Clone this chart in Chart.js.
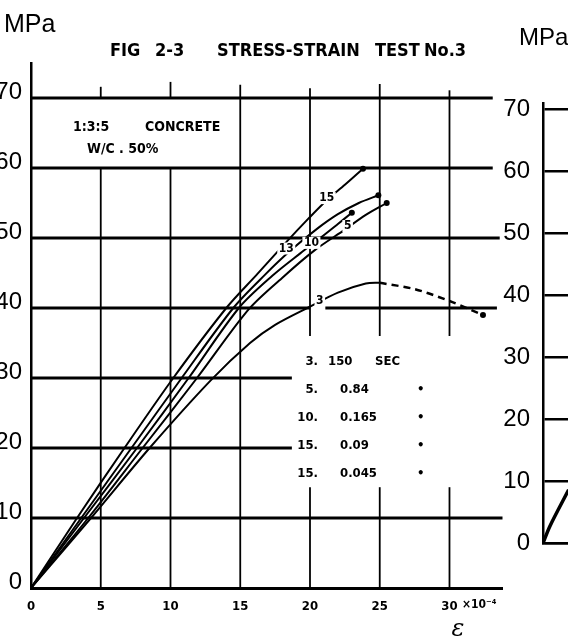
<!DOCTYPE html>
<html>
<head>
<meta charset="utf-8">
<script src="https://cdn.jsdelivr.net/npm/chart.js@4.4.1/dist/chart.umd.min.js"></script>
<style>
  html, body { margin: 0; padding: 0; background: #fff; overflow: hidden; width: 568px; height: 643px; }
  #main { position: absolute; left: 0; top: 0; width: 568px; height: 643px; }
  #side { position: absolute; left: 480px; top: 0; width: 120px; height: 643px; }
</style>
</head>
<body>
<div id="main"><canvas id="mainChart"></canvas></div>
<div id="side"><canvas id="sideChart"></canvas></div>
<script>
// strain (x10^-4) / stress (MPa)
const strainTicks = [0, 5, 10, 15, 20, 25, 30];
const stressTicks = [0, 10, 20, 30, 40, 50, 60, 70];

const curve15 = [[0,0],[3.3,10],[6.7,20],[10.2,30],[14.0,40],[16.2,44.8],[18.2,49.2],[19.9,52.8],[21.2,55.4],[22.5,57.6],[23.8,59.9]];
const curve13 = [[0,0],[3.6,10],[7.2,20],[10.8,30],[14.5,40],[16.8,44.8],[18.6,48.2],[20.5,51.3],[22,53.4],[23.5,55],[24.9,56.1]];
const curve10 = [[0,0],[3.8,10],[7.6,20],[11.3,30],[14.9,40],[17.3,44.6],[19.3,47.8],[20.8,50.1],[22,52],[23.0,53.6]];
const curve5  = [[0,0],[4.1,10],[8.0,20],[11.9,30],[15.6,39.8],[18.0,44.3],[20.3,48.2],[22.5,51.2],[24,53.3],[25.5,55.0]];
const curve3  = [[0,0],[4.3,10],[8.5,20],[12.9,29.7],[15.7,35],[17.5,37.6],[20,40.2],[22,42.2],[24,43.5],[25,43.6]];
const curve3Tail = [[25,43.6],[27.5,42.7],[30,41],[32.4,39]];

const curveNames = ['15', '13', '10', '5', '3'];
const curveNameAt = [[21.2,55.7],[18.3,48.5],[20.1,49.3],[22.7,51.7],[20.7,41.0]];

const legendCurve = ['3.', '5.', '10.', '15.', '15.'];
const legendTime = ['150', '0.84', '0.165', '0.09', '0.045'];

// partly visible neighbouring figure on the right
const sideCurve = [[0,0],[0.5,2.8],[1.8,8.6]];

const toXY = arr => arr.map(p => ({ x: p[0], y: p[1] }));
const endDot = arr => arr.map((p, i) => i === arr.length - 1 ? 3 : 0);

// grid spans of the hand drawn sheet: [value, from, to]
const hSpans = [[70,0,33.1],[60,0,33.1],[50,0,33.6],[40,0,20],[40,21.1,33.4],[30,0,18.7],[20,0,18.7],[10,0,33.8]];
const vSpans = [[5,0,60],[5,70,71.6],[10,0,60],[10,70,72.3],[15,0,71.9],[20,36,71.4],[20,0,14.4],[25,36,72],[25,0,14.4],[30,36,71.1],[30,0,14.4]];

const gridPlugin = {
  id: 'sheetGrid',
  beforeDatasetsDraw(chart) {
    const { ctx, scales: { x, y } } = chart;
    ctx.save();
    ctx.strokeStyle = '#000';
    ctx.lineCap = 'butt';
    ctx.lineWidth = 3;
    hSpans.forEach(s => {
      ctx.beginPath();
      ctx.moveTo(x.getPixelForValue(s[1]), y.getPixelForValue(s[0]));
      ctx.lineTo(x.getPixelForValue(s[2]), y.getPixelForValue(s[0]));
      ctx.stroke();
    });
    ctx.lineWidth = 1.8;
    vSpans.forEach(s => {
      ctx.beginPath();
      ctx.moveTo(x.getPixelForValue(s[0]), y.getPixelForValue(s[1]));
      ctx.lineTo(x.getPixelForValue(s[0]), y.getPixelForValue(s[2]));
      ctx.stroke();
    });
    ctx.restore();
  }
};

const textPlugin = {
  id: 'sheetText',
  afterDraw(chart) {
    const { ctx, scales: { x, y } } = chart;
    ctx.save();
    ctx.fillStyle = '#000';
    ctx.textBaseline = 'middle';

    // title
    ctx.font = 'bold 18px "DejaVu Sans Condensed"';
    ctx.textAlign = 'left';
    ctx.fillText('FIG', 110, 51);
    ctx.fillText('2-3', 155, 51);
    ctx.fillText('STRESS-STRAIN', 217, 51);
    ctx.fillText('TEST', 375, 51);
    ctx.fillText('No.3', 424, 51);

    // units
    ctx.font = '25px "Liberation Sans"';
    ctx.fillText('MPa', 4, 25);
    ctx.font = '24px "Liberation Sans"';
    ctx.fillText('MPa', 519, 38);

    // note box text
    ctx.font = 'bold 14px "DejaVu Sans Condensed"';
    ctx.fillText('1:3:5', 73, 127);
    ctx.fillText('CONCRETE', 145, 127);
    ctx.fillText('W/C . 50%', 87, 149);

    // curve names sitting on the lines
    ctx.font = 'bold 12px "DejaVu Sans Condensed"';
    ctx.textAlign = 'center';
    curveNames.forEach((t, i) => {
      const px = x.getPixelForValue(curveNameAt[i][0]);
      const py = y.getPixelForValue(curveNameAt[i][1]);
      const w = ctx.measureText(t).width + 3;
      ctx.fillStyle = '#fff';
      ctx.fillRect(px - w / 2, py - 6, w, 12);
      ctx.fillStyle = '#000';
      ctx.fillText(t, px, py);
    });

    // loading time legend
    ctx.font = 'bold 13px "DejaVu Sans Condensed"';
    legendCurve.forEach((t, i) => {
      const py = 362 + i * 27.8;
      ctx.textAlign = 'right';
      ctx.fillText(t, 318, py);
      ctx.textAlign = 'left';
      ctx.fillText(legendTime[i], i === 0 ? 328 : 340, py);
      if (i === 0) ctx.fillText('SEC', 375, py);
      else ctx.fillText('•', 417, py);
    });

    // axis unit and symbol
    ctx.font = 'bold 12px "DejaVu Sans Condensed"';
    ctx.textAlign = 'left';
    ctx.fillText('×10⁻⁴', 462, 605);
    ctx.font = 'italic 24px "DejaVu Serif"';
    ctx.textAlign = 'center';
    ctx.fillText('ε', 458, 630);
    ctx.restore();
  }
};

const line = (arr, extra) => Object.assign({
  data: toXY(arr),
  borderColor: '#000',
  backgroundColor: '#000',
  borderWidth: 2,
  pointRadius: endDot(arr),
  pointBorderWidth: 0,
  tension: 0.3,
  fill: false
}, extra || {});

new Chart(document.getElementById('mainChart'), {
  type: 'line',
  data: {
    datasets: [
      line(curve15),
      line(curve13),
      line(curve10),
      line(curve5),
      line(curve3, { pointRadius: 0 }),
      line(curve3Tail, { borderDash: [7, 5], borderWidth: 2.5 })
    ]
  },
  options: {
    responsive: true,
    maintainAspectRatio: false,
    animation: false,
    layout: { padding: { top: 63, right: 65.5, left: 0, bottom: 0 } },
    plugins: { legend: { display: false }, tooltip: { enabled: false } },
    scales: {
      x: {
        type: 'linear', min: 0, max: 33.8,
        afterFit: s => { s.height = 55; },
        ticks: {
          stepSize: 5, includeBounds: false, padding: 11, color: '#000', maxRotation: 0,
          font: { family: 'DejaVu Sans Condensed', weight: 'bold', size: 13 },
          callback: v => strainTicks.includes(v) ? String(v) : ''
        },
        grid: { display: false, drawTicks: false },
        border: { display: true, color: '#000', width: 3 }
      },
      y: {
        type: 'linear', min: 0, max: 75,
        afterFit: s => { s.width = 31; },
        ticks: {
          stepSize: 10, includeBounds: false, padding: 9, labelOffset: -6, color: '#000',
          font: { family: 'Liberation Sans', size: 24 },
          callback: v => stressTicks.includes(v) ? String(v) : ''
        },
        grid: { display: false, drawTicks: false },
        border: { display: true, color: '#000', width: 2.5 }
      }
    }
  },
  plugins: [gridPlugin, textPlugin]
});

new Chart(document.getElementById('sideChart'), {
  type: 'line',
  data: { datasets: [line(sideCurve, { borderWidth: 3.5, pointRadius: 0 })] },
  options: {
    responsive: true,
    maintainAspectRatio: false,
    animation: false,
    layout: { padding: { top: 103, right: 0, left: 0, bottom: 0 } },
    plugins: { legend: { display: false }, tooltip: { enabled: false } },
    scales: {
      x: {
        type: 'linear', min: 0, max: 4,
        afterFit: s => { s.height = 100; },
        ticks: { display: false },
        grid: { display: false, drawTicks: false },
        border: { display: true, color: '#000', width: 2.5 }
      },
      y: {
        type: 'linear', min: 0, max: 71,
        afterFit: s => { s.width = 63; },
        ticks: {
          stepSize: 10, includeBounds: false, padding: 13, color: '#000',
          font: { family: 'Liberation Sans', size: 24 },
          callback: v => stressTicks.includes(v) ? String(v) : ''
        },
        grid: { color: '#000', lineWidth: 2.5, drawTicks: false },
        border: { display: true, color: '#000', width: 2.5 }
      }
    }
  }
});
</script>
</body>
</html>
